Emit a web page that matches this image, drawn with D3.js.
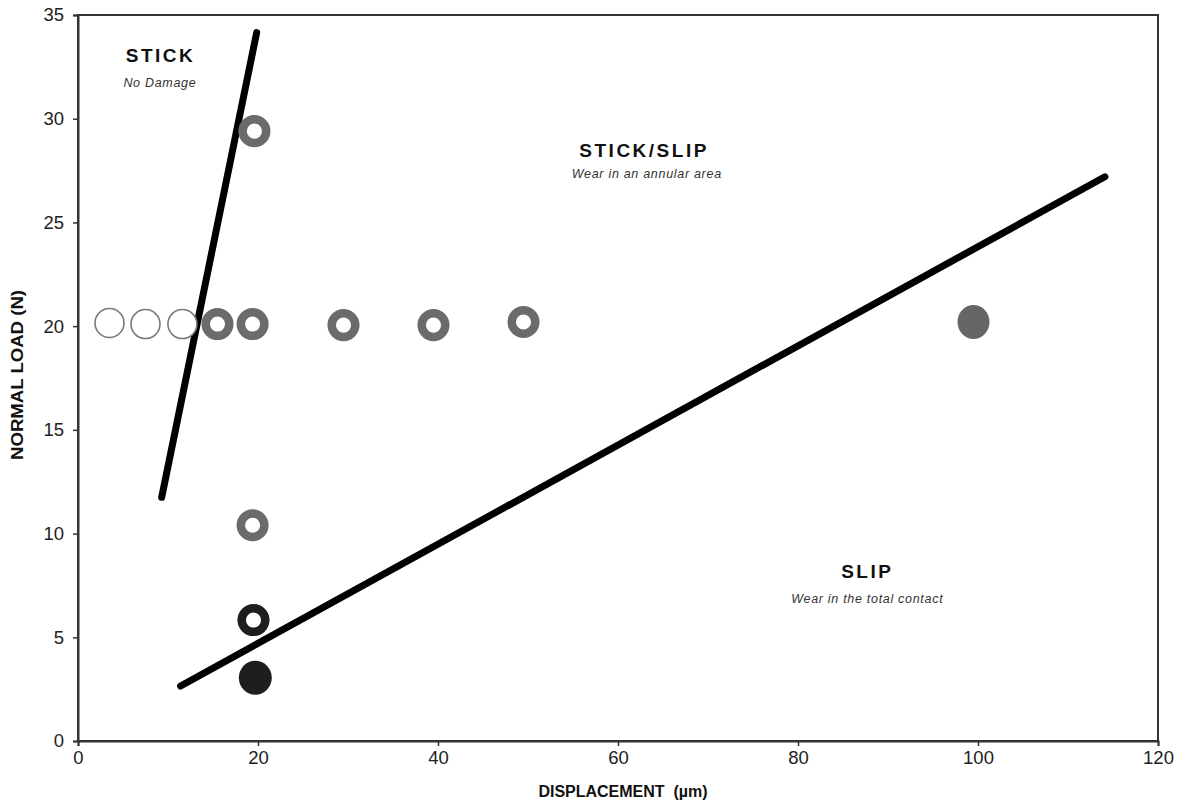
<!DOCTYPE html>
<html>
<head>
<meta charset="utf-8">
<script src="https://cdn.jsdelivr.net/npm/d3@7"></script>
<style>
  html, body { margin: 0; padding: 0; background: #fff; }
  svg { display: block; font-family: Arial, "Liberation Sans", sans-serif; }
</style>
</head>
<body>
<svg id="chart" width="1184" height="804"></svg>
<script>
// Axis ticks
const xTicks = [0, 20, 40, 60, 80, 100, 120];
const yTicks = [0, 5, 10, 15, 20, 25, 30, 35];

// Test points by wear outcome
const noDamageX = [3.5, 7.5, 11.6];
const noDamageY = [20.15, 20.1, 20.1];

const annularX = [15.5, 19.4, 29.5, 39.5, 49.5, 19.6, 19.4];
const annularY = [20.1, 20.1, 20.05, 20.05, 20.2, 29.4, 10.4];

const annularDarkX = [19.5];
const annularDarkY = [5.83];

const totalDarkX = [19.7];
const totalDarkY = [3.05];

const totalGrayX = [99.5];
const totalGrayY = [20.2];

// Regime boundaries (end points)
const stickBoundaryX = [9.3, 19.85];
const stickBoundaryY = [11.75, 34.15];
const slipBoundaryX = [11.4, 114.1];
const slipBoundaryY = [2.65, 27.2];

// Regime labels
const regionTitles = ["STICK", "STICK/SLIP", "SLIP"];
const regionNotes = ["No Damage", "Wear in an annular area", "Wear in the total contact"];
const regionX = [9.17, 62.9, 87.7];
const regionY = [32.74, 28.16, 7.86];
const noteX = [9.1, 63.2, 87.7];
const noteY = [31.53, 27.15, 6.65];

const svg = d3.select("#chart");
const margin = { left: 78, right: 26, top: 15, bottom: 63 };
const W = 1184, H = 804;

const x = d3.scaleLinear().domain([0, 120]).range([margin.left, W - margin.right]);
const y = d3.scaleLinear().domain([0, 35]).range([H - margin.bottom, margin.top]);

// Frame
svg.append("rect")
  .attr("x", x(0)).attr("y", y(35))
  .attr("width", x(120) - x(0)).attr("height", y(0) - y(35))
  .attr("fill", "none").attr("stroke", "#333").attr("stroke-width", 2);

// Axes
const xAxis = svg.append("g")
  .attr("transform", `translate(0,${y(0)})`)
  .call(d3.axisBottom(x).tickValues(xTicks).tickSize(5).tickPadding(5).tickFormat(d3.format("d")));
const yAxis = svg.append("g")
  .attr("transform", `translate(${x(0)},0)`)
  .call(d3.axisLeft(y).tickValues(yTicks).tickSize(5).tickPadding(9).tickFormat(d3.format("d")));

[xAxis, yAxis].forEach(g => {
  g.select(".domain").attr("stroke", "#333").attr("stroke-width", 2);
  g.selectAll(".tick line").attr("stroke", "#333").attr("stroke-width", 1.5);
  g.selectAll(".tick text").attr("fill", "#222").attr("font-size", 18.5)
    .attr("font-family", "Arial, 'Liberation Sans', sans-serif");
});

// Axis titles
svg.append("text")
  .attr("x", 623).attr("y", 797)
  .attr("text-anchor", "middle")
  .attr("font-size", 16).attr("font-weight", "bold").attr("fill", "#111")
  .attr("xml:space", "preserve")
  .text("DISPLACEMENT  (µm)");

svg.append("text")
  .attr("transform", `translate(23,375) rotate(-90)`)
  .attr("text-anchor", "middle")
  .attr("font-size", 16).attr("font-weight", "bold").attr("fill", "#111")
  .attr("textLength", 170).attr("lengthAdjust", "spacingAndGlyphs")
  .text("NORMAL LOAD (N)");

// Regime boundary lines
const line = d3.line().x(d => x(d[0])).y(d => y(d[1]));
[[stickBoundaryX, stickBoundaryY], [slipBoundaryX, slipBoundaryY]].forEach(([bx, by]) => {
  svg.append("path")
    .attr("d", line(bx.map((v, i) => [v, by[i]])))
    .attr("fill", "none").attr("stroke", "#000")
    .attr("stroke-width", 7).attr("stroke-linecap", "round");
});

// Markers
function plot(xs, ys, r, fill, stroke, sw, ry) {
  svg.append("g").selectAll("ellipse")
    .data(xs.map((v, i) => [v, ys[i]]))
    .join("ellipse")
    .attr("cx", d => x(d[0])).attr("cy", d => y(d[1]))
    .attr("rx", r).attr("ry", ry || r)
    .attr("fill", fill).attr("stroke", stroke).attr("stroke-width", sw);
}

plot(noDamageX, noDamageY, 14.5, "#fff", "#7a7a7a", 1.6);
plot(annularX, annularY, 11.8, "#fff", "#6b6b6b", 8.5);
plot(annularDarkX, annularDarkY, 11.8, "#fff", "#1e1e1e", 8.5);
plot(totalDarkX, totalDarkY, 16.5, "#1e1e1e", "none", 0, 17);
plot(totalGrayX, totalGrayY, 16, "#666", "none", 0, 17);

// Regime labels
regionTitles.forEach((t, i) => {
  svg.append("text")
    .attr("x", x(regionX[i])).attr("y", y(regionY[i]))
    .attr("text-anchor", "middle")
    .attr("font-size", 19).attr("font-weight", "bold").attr("fill", "#111")
    .attr("letter-spacing", 2.5)
    .text(t);
  svg.append("text")
    .attr("x", x(noteX[i])).attr("y", y(noteY[i]))
    .attr("text-anchor", "middle")
    .attr("font-size", 12.5).attr("font-style", "italic").attr("fill", "#333")
    .attr("letter-spacing", 0.7)
    .text(regionNotes[i]);
});
</script>
</body>
</html>
